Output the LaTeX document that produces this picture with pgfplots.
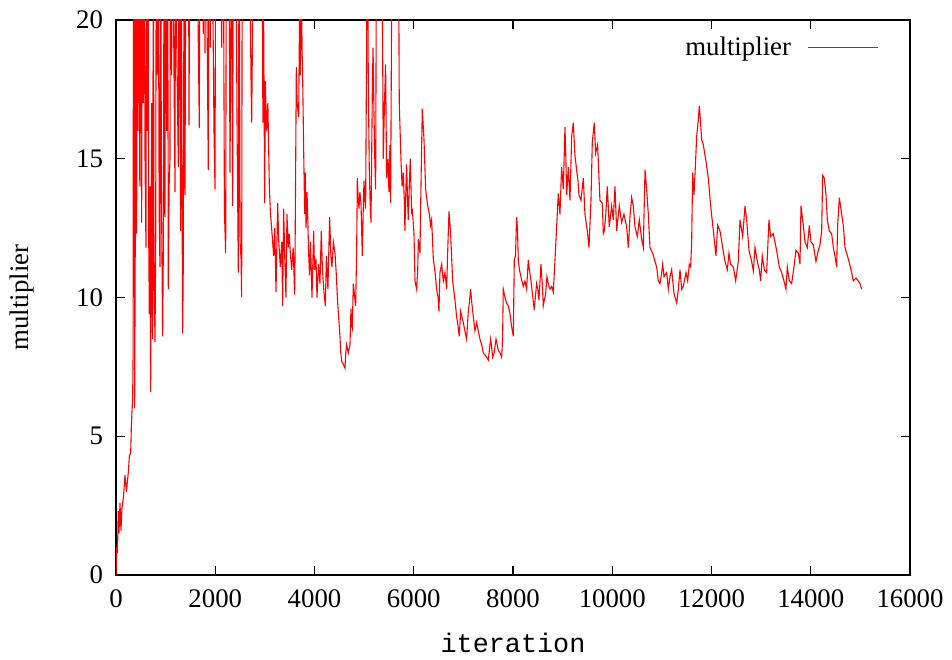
\documentclass[border=0pt]{standalone}
\usepackage{fontspec}
\setmainfont{Liberation Serif}
\newfontfamily\monofont{Liberation Mono}
\usepackage{pgfplots}
\pgfplotsset{compat=1.18}
\begin{document}
\begin{tikzpicture}
\begin{axis}[
  scale only axis,
  width=397pt, height=277.5pt,
  xmin=0, xmax=16000, ymin=0, ymax=20,
  xtick={0,2000,...,16000}, ytick={0,5,10,15,20},
  scaled x ticks=false,
  /pgf/number format/assume math mode=true,
  /pgf/number format/set thousands separator={},
  tick label style={font=\fontsize{13.4}{16}\selectfont},
  xticklabel style={yshift=-4pt},
  yticklabel style={xshift=-3pt},
  major tick length=4.5pt,
  tick style={black, line width=0.6pt},
  axis line style={line width=0.8pt},
  xlabel={\monofont iteration},
  ylabel={multiplier},
  label style={font=\fontsize{13.4}{16}\selectfont},
  xlabel style={at={(axis description cs:0.5,-0.1225)}, anchor=center},
  ylabel style={at={(axis description cs:-0.118,0.5)}, anchor=center},
  legend plot pos=right,
  legend cell align=right,
  legend style={draw=none, fill=none, at={(rel axis cs:0.968,0.985)}, anchor=north east,
    font=\fontsize{13.4}{16}\selectfont,
    /tikz/every odd column/.append style={column sep=6pt}},
  legend image code/.code={\draw[red, line width=0.6pt] (0pt,0pt) -- (35pt,0pt);},
]
\coordinate (O) at (rel axis cs:0,0);
\addplot[red, line width=0.55pt] table {
x y
0 0
15 1.0
30 0.8
45 2.3
60 1.5
81 2.6
100 1.6
120 2.4
150 2.8
181 3.6
210 3.0
248 3.7
270 4.3
296 4.4
310 5.4
336 6.4
345 8.0
352 25
362 10
370 25
376 6.0
388 12
400 25
416 12.3
428 25
445 16
460 25
480 14
495 25
517 12.7
530 25
550 17
565 25
585 15
604 11.8
615 25
630 16
645 25
660 12
671 9.4
685 14
698 6.6
708 10
719 17.0
728 12
739 8.5
752 25
766 11
786 8.4
800 12
812 25
830 18
850 25
870 13
886 11.1
900 25
915 14
940 8.6
955 12
970 25
987 12.9
1000 25
1020 16
1040 25
1054 10.3
1070 14
1088 15.0
1100 25
1120 18
1140 25
1160 20
1189 13.8
1200 25
1225 19
1256 14.7
1270 25
1303 12.4
1315 25
1330 14
1343 8.7
1355 11
1375 25
1390 13.7
1410 25
1440 21
1460 25
1471 16.2
1490 25
1520 25
1560 21
1600 25
1640 22
1679 16.1
1690 25
1720 23
1760 19.5
1780 25
1793 18.8
1805 25
1830 21
1860 14.6
1875 25
1900 19
1920 25
1950 21
1975 16
1995 13.9
2010 25
2040 22
2070 20.5
2096 25
2130 19
2160 25
2185 13.1
2210 11.6
2225 25
2250 21
2275 25
2297 14.5
2310 18
2325 25
2351 13.3
2365 25
2390 20
2410 25
2440 16
2465 10.9
2480 25
2500 12
2520 11.4
2532 10.0
2545 25
2570 22
2600 25
2640 21
2680 25
2720 18
2734 16.3
2750 19.4
2770 25
2800 21
2840 25
2870 20
2900 25
2942 25
2960 16.3
2975 20
2996 13.4
3009 17.8
3035 16.0
3060 17.0
3075 15.5
3090 14.0
3110 13.1
3140 12.4
3177 11.5
3200 12.5
3224 10.2
3258 13.4
3280 12.0
3311 11.1
3340 12.0
3358 9.7
3378 13.2
3400 11.5
3425 10.0
3445 13.0
3470 11.8
3490 12.3
3513 11.6
3540 11.0
3570 11.8
3600 10.1
3610 12
3634 18.3
3650 17.0
3681 16.5
3700 20.5
3715 18
3735 25
3748 19
3761 18.0
3780 15.5
3802 13.0
3815 14.5
3830 12.5
3849 13.8
3865 12.8
3882 11.6
3900 10.8
3920 12.0
3949 10.0
3983 12.4
4000 11
4030 11.4
4050 10.0
4080 11.2
4110 10.5
4137 12.4
4160 11.0
4190 10.2
4218 9.7
4240 11.5
4270 10.3
4305 12.9
4330 11.5
4352 11.1
4380 12.0
4413 11.6
4440 10.8
4467 9.8
4490 9.2
4513 8.6
4530 8.0
4547 7.7
4580 7.6
4614 7.45
4630 8.0
4648 8.3
4680 8.0
4715 8.3
4735 9.6
4750 9.0
4762 8.9
4782 10.5
4810 10.0
4829 9.7
4849 11.6
4863 14.3
4880 13.6
4896 13.2
4915 13.8
4937 13.4
4963 11.5
4980 13.0
4997 14.2
5015 13.5
5030 13.2
5051 19.3
5065 25
5084 17.7
5104 14.6
5120 13.5
5138 12.7
5165 17.4
5180 19
5198 16.7
5215 15
5232 13.9
5252 25
5300 25
5330 22
5353 25
5386 15.0
5410 17
5433 18.4
5453 14.3
5480 15
5500 13.8
5520 15.5
5534 13.4
5567 25
5620 25
5688 25
5708 17.0
5725 16.0
5742 15.0
5765 14
5789 14.5
5810 13.5
5822 12.4
5840 13.8
5856 14.8
5875 13.5
5890 12.8
5910 14.0
5930 15.0
5958 13.0
5970 13.2
6005 12.3
6025 10.6
6058 10.3
6080 11.0
6092 12.1
6125 11.6
6146 14.1
6172 16.8
6190 16.2
6206 15.7
6240 13.9
6273 13.4
6314 13.0
6340 12.6
6360 12.8
6394 11.4
6430 10.9
6461 10.3
6490 10.0
6508 9.5
6528 10.9
6562 11.2
6595 10.6
6629 10.9
6663 10.3
6683 11.6
6710 13.1
6743 12.3
6784 10.6
6810 10.2
6831 9.9
6864 9.3
6890 9.0
6918 8.6
6945 9.5
6970 9.3
6998 9.1
7030 8.8
7065 8.5
7099 9.5
7120 9.8
7146 10.3
7170 9.8
7200 9.3
7233 8.8
7267 9.1
7300 8.8
7334 8.5
7370 8.3
7401 8.0
7450 7.9
7502 7.75
7549 8.5
7570 8.2
7590 7.85
7620 8.0
7657 8.5
7704 8.1
7740 8.0
7771 7.85
7790 8.5
7804 10.3
7838 10.0
7870 9.8
7905 9.7
7940 9.4
7972 8.95
8006 8.6
8026 11.35
8050 11.5
8073 12.9
8090 12.5
8106 11.35
8130 11.0
8160 10.75
8207 10.4
8240 10.6
8274 10.3
8308 11.35
8330 11.0
8362 10.6
8400 10.0
8429 9.55
8450 10.0
8476 10.5
8500 10.3
8523 9.9
8563 11.2
8590 10.5
8610 9.7
8630 9.9
8657 10.1
8684 10.75
8710 10.5
8745 10.3
8780 10.4
8812 10.2
8846 11.35
8879 12.55
8913 13.75
8946 13.0
8980 14.7
9014 13.9
9047 16.15
9065 15.0
9081 13.7
9114 14.7
9148 13.5
9182 15.8
9215 16.3
9249 15.1
9282 14.6
9310 14.2
9329 13.7
9370 13.5
9417 14.3
9450 13.0
9497 12.4
9531 11.8
9571 13.5
9598 15.6
9638 16.3
9665 15.2
9705 15.5
9752 13.5
9799 13.4
9820 12.3
9840 12.4
9870 13.0
9900 14.0
9940 12.55
9988 13.3
10021 12.8
10055 14.0
10089 12.4
10142 13.3
10189 12.7
10236 13.0
10290 12.55
10324 11.8
10357 12.9
10391 13.6
10424 13.3
10458 12.55
10505 12.2
10545 12.8
10592 12.1
10626 11.8
10660 14.6
10693 13.9
10727 13.0
10760 11.8
10814 11.6
10861 11.3
10895 11.1
10928 10.6
10962 10.5
10996 10.9
11016 11.2
11043 10.75
11096 10.9
11130 10.3
11164 10.75
11197 11.0
11244 10.15
11298 9.8
11332 10.3
11365 11.0
11399 10.3
11432 10.4
11486 10.9
11520 10.6
11553 11.2
11580 11.1
11600 12.0
11620 14.5
11647 13.7
11674 14.7
11701 15.8
11734 16.4
11754 16.9
11768 16.6
11801 15.7
11835 15.5
11889 14.9
11936 14.3
11983 13.3
12037 12.4
12090 11.5
12124 12.6
12171 12.4
12225 11.8
12272 11.3
12319 11.0
12352 11.6
12386 11.2
12440 11.1
12487 10.6
12540 11.3
12574 12.8
12628 12.2
12675 13.3
12708 12.8
12755 11.7
12809 11.3
12842 10.95
12876 11.8
12923 11.3
12963 11.0
12990 10.6
13023 11.5
13064 11.0
13111 10.9
13158 12.8
13191 12.2
13245 12.3
13312 11.7
13366 11.1
13413 10.9
13460 10.6
13500 10.3
13527 11.1
13568 10.6
13615 10.5
13662 11.1
13702 11.7
13749 11.6
13783 11.2
13803 13.3
13850 12.6
13884 12.0
13931 11.8
13971 12.6
14005 12.0
14052 11.9
14105 11.3
14152 11.7
14186 11.9
14220 12.4
14240 14.4
14273 14.3
14307 13.7
14334 12.8
14374 12.4
14421 12.3
14455 11.8
14488 11.5
14522 11.1
14542 12.6
14576 13.6
14623 13.0
14656 12.6
14690 11.8
14723 11.6
14770 11.3
14811 11.0
14858 10.6
14911 10.7
14958 10.6
14992 10.5
15025 10.3
};
\addlegendentry{multiplier}
\end{axis}
\path (O) ++(-58pt,-41pt) rectangle ++(476pt,328.5pt);
\end{tikzpicture}
\end{document}
